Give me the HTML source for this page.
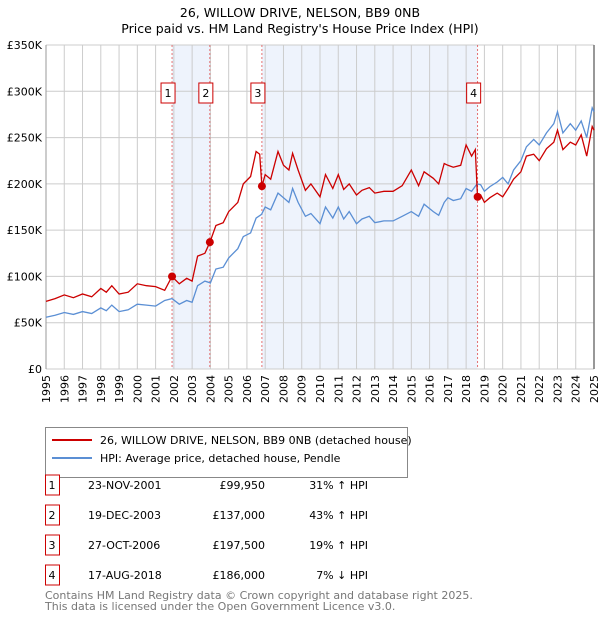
<!DOCTYPE html>
<html><head><meta charset="utf-8"><style>
body{margin:0;background:#fff;font-family:"DejaVu Sans","Liberation Sans",sans-serif;}
svg text{font-family:"DejaVu Sans","Liberation Sans",sans-serif;}
</style></head><body>
<svg width="600" height="620" viewBox="0 0 600 620">
<text x="300" y="17" text-anchor="middle" font-size="12.5">26, WILLOW DRIVE, NELSON, BB9 0NB</text>
<text x="300" y="33" text-anchor="middle" font-size="12.5">Price paid vs. HM Land Registry's House Price Index (HPI)</text>
<g id="plot"></g>
<g>
<rect x="45.5" y="427.5" width="362" height="50" fill="#fff" stroke="#888"/>
<line x1="52" y1="440" x2="92" y2="440" stroke="#cc0000" stroke-width="2"/>
<text x="100" y="444" font-size="11">26, WILLOW DRIVE, NELSON, BB9 0NB (detached house)</text>
<line x1="52" y1="458" x2="92" y2="458" stroke="#5b8fd4" stroke-width="2"/>
<text x="100" y="462" font-size="11">HPI: Average price, detached house, Pendle</text>
</g>
<g id="table" font-size="11"></g>
<text x="45" y="599" font-size="11" fill="#777">Contains HM Land Registry data © Crown copyright and database right 2025.</text>
<text x="45" y="610" font-size="11" fill="#777">This data is licensed under the Open Government Licence v3.0.</text>
</svg>
<script>
const hpiYears=[1995,1995.5,1996,1996.5,1997,1997.5,1998,1998.3,1998.6,1999,1999.5,2000,2000.5,2001,2001.5,2001.9,2002.3,2002.7,2003,2003.3,2003.7,2004,2004.3,2004.7,2005,2005.5,2005.8,2006.2,2006.5,2006.8,2007,2007.3,2007.7,2008,2008.3,2008.5,2008.8,2009.2,2009.5,2010,2010.3,2010.7,2011,2011.3,2011.6,2012,2012.3,2012.7,2013,2013.5,2014,2014.5,2015,2015.4,2015.7,2016.2,2016.5,2016.8,2017,2017.3,2017.7,2018,2018.3,2018.6,2018.8,2019,2019.3,2019.7,2020,2020.3,2020.6,2021,2021.3,2021.7,2022,2022.4,2022.8,2023,2023.3,2023.7,2024,2024.3,2024.6,2024.9,2025];
const hpiValues=[56,58,61,59,62,60,66,63,69,62,64,70,69,68,74,76,70,74,72,90,95,93,108,110,120,130,143,147,163,167,175,172,190,185,180,195,180,165,168,157,175,163,175,162,170,157,162,165,158,160,160,165,170,165,178,170,166,180,185,182,184,195,192,200,199,192,197,202,207,200,215,225,240,248,242,255,265,278,255,265,258,268,250,282,278];
const priceYears=[1995,1995.5,1996,1996.5,1997,1997.5,1998,1998.3,1998.6,1999,1999.5,2000,2000.5,2001,2001.5,2001.9,2002.3,2002.7,2003,2003.3,2003.7,2003.97,2004.3,2004.7,2005,2005.5,2005.8,2006.2,2006.5,2006.7,2006.82,2007,2007.3,2007.7,2008,2008.3,2008.5,2008.8,2009.2,2009.5,2010,2010.3,2010.7,2011,2011.3,2011.6,2012,2012.3,2012.7,2013,2013.5,2014,2014.5,2015,2015.4,2015.7,2016.2,2016.5,2016.8,2017,2017.3,2017.7,2018,2018.3,2018.5,2018.62,2018.8,2019,2019.3,2019.7,2020,2020.3,2020.6,2021,2021.3,2021.7,2022,2022.4,2022.8,2023,2023.3,2023.7,2024,2024.3,2024.6,2024.9,2025];
const priceValues=[73,76,80,77,81,78,87,83,90,81,83,92,90,89,85,99.95,92,98,95,122,125,137,155,158,170,180,200,208,235,232,197.5,210,205,235,220,215,233,215,193,200,186,210,195,210,194,200,188,193,196,190,192,192,198,215,198,213,206,200,222,220,218,220,242,230,237,186,188,180,185,190,186,195,205,213,230,232,225,238,245,258,237,245,242,253,230,262,258];
const saleLabels=["1","2","3","4"];
const saleYears=[2001.9,2003.97,2006.82,2018.63];
const saleValues=[99.95,137,197.5,186];
const saleDates=["23-NOV-2001","19-DEC-2003","27-OCT-2006","17-AUG-2018"];
const salePrices=["£99,950","£137,000","£197,500","£186,000"];
const saleDiffs=["31% ↑ HPI","43% ↑ HPI","19% ↑ HPI","7% ↓ HPI"];
const yTicks=[0,50,100,150,200,250,300,350];
const yTickLabels=["£0","£50K","£100K","£150K","£200K","£250K","£300K","£350K"];

const X0=46,X1=594,Y0=369,Y1=45;
const xs=y=>X0+(y-1995)/30*(X1-X0);
const ys=v=>Y0-v/350*(Y0-Y1);
const NS="http://www.w3.org/2000/svg";
const plot=document.getElementById('plot');
function mk(tag,attrs,parent){const e=document.createElementNS(NS,tag);for(const k in attrs)e.setAttribute(k,attrs[k]);(parent||plot).appendChild(e);return e;}
[[0,1],[2,3]].forEach(p=>{const r=mk('rect',{x:xs(saleYears[p[0]]),y:Y1,width:xs(saleYears[p[1]])-xs(saleYears[p[0]]),height:Y0-Y1,fill:'#eef3fc'});

});
yTicks.forEach((t,i)=>{const l=mk('line',{x1:X0,x2:X1,y1:ys(t),y2:ys(t),stroke:'#cccccc'});


const tx=mk('text',{x:X0-4,y:ys(t)+4,'text-anchor':'end','font-size':'11'});tx.textContent=yTickLabels[i];

});
for(let yr=1995;yr<=2025;yr++){const l=mk('line',{x1:xs(yr),x2:xs(yr),y1:Y1,y2:Y0,stroke:'#cccccc'});


const tx=mk('text',{x:0,y:0,'text-anchor':'end','font-size':'11',transform:`translate(${xs(yr)+4},${Y0+6}) rotate(-90)`});tx.textContent=yr;

}
mk('line',{x1:X0,x2:X0,y1:Y1,y2:Y0,stroke:'#999'});
mk('line',{x1:X1,x2:X1,y1:Y1,y2:Y0,stroke:'#777','stroke-width':1.5});
saleYears.forEach(s=>{const l=mk('line',{x1:xs(s),x2:xs(s),y1:Y1,y2:Y0,stroke:'#e05050','stroke-dasharray':'2,2','stroke-width':0.8});

});
function line(xa,va,col,name){const d=xa.map((x,i)=>(i?'L':'M')+xs(x).toFixed(1)+','+ys(va[i]).toFixed(1)).join('');
const p=mk('path',{d:d,fill:'none',stroke:col,'stroke-width':1.3});

}
line(hpiYears,hpiValues,'#5b8fd4','hpi-line');
line(priceYears,priceValues,'#cc0000','price-paid-line');
saleYears.forEach((s,i)=>{const c=mk('circle',{cx:xs(s),cy:ys(saleValues[i]),r:4,fill:'#cc0000'});


const bx=xs(s)-11;const r=mk('rect',{x:bx,y:83,width:14,height:20,fill:'#fff',stroke:'#cc0000'});


const t=mk('text',{x:bx+7,y:97,'text-anchor':'middle','font-size':'11'});t.textContent=saleLabels[i];

});
const tb=document.getElementById('table');
saleLabels.forEach((lab,i)=>{const y=483+i*30;
const r=mk('rect',{x:45.5,y:y-8,width:14,height:20,fill:'#fff',stroke:'#cc0000'},tb);


const cells=[[52,lab,'middle'],[88,saleDates[i],'start'],[265,salePrices[i],'end'],[368,saleDiffs[i],'end']];
cells.forEach(c=>{const t=mk('text',{x:c[0],y:y+6,'text-anchor':c[2]},tb);t.textContent=c[1];

});});
</script>
</body></html>
